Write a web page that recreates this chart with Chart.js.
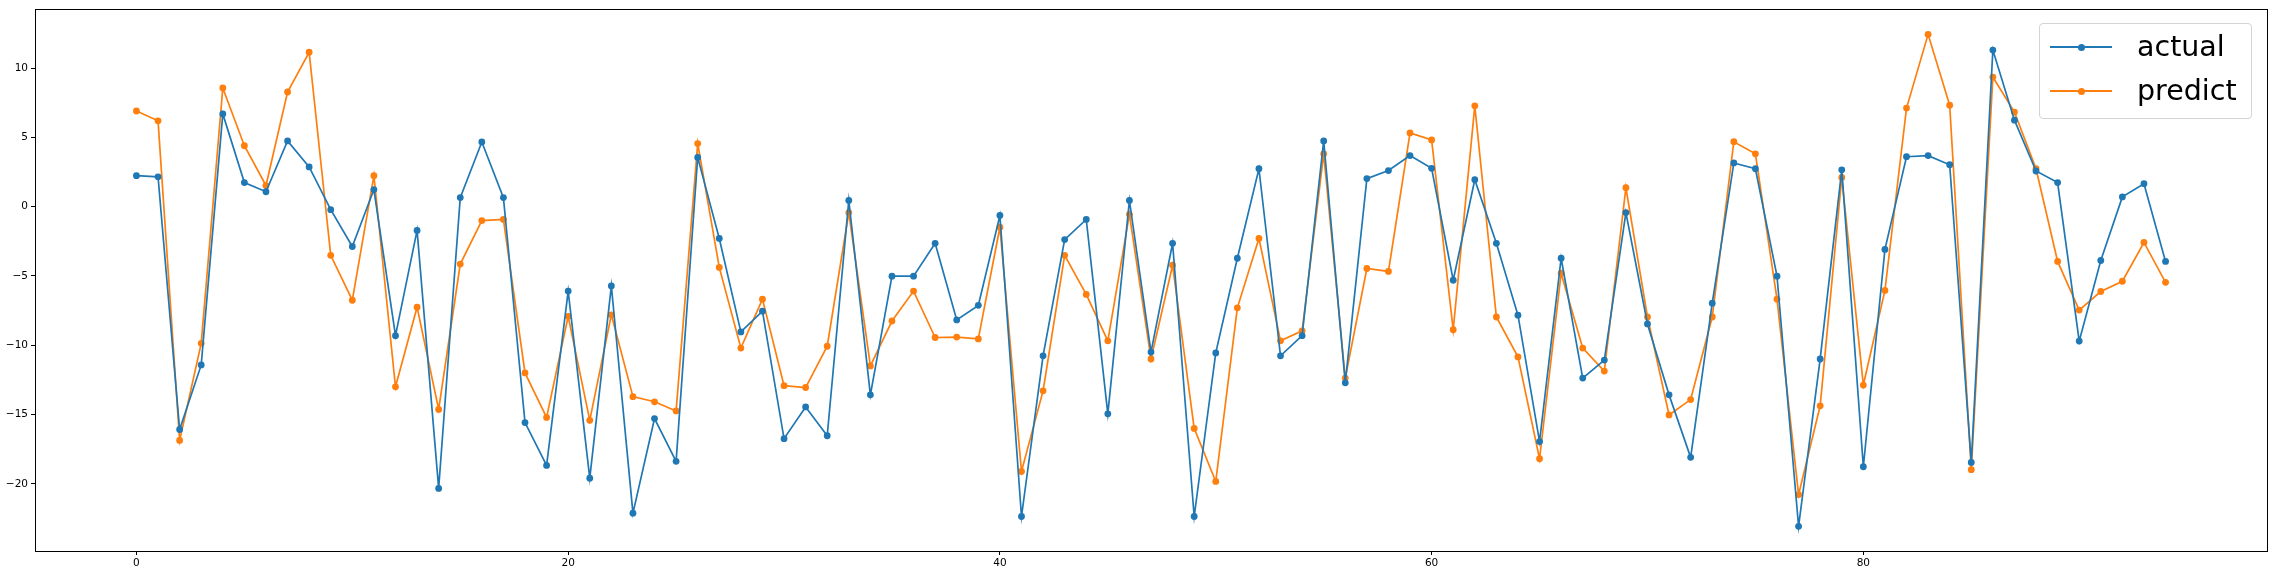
<!DOCTYPE html>
<html>
<head>
<meta charset="utf-8">
<script src="https://cdn.jsdelivr.net/npm/chart.js@4.4.1/dist/chart.umd.min.js"></script>
<style>
body { margin: 0; background: #fff; }
#wrap { position: relative; width: 2274px; height: 575px; }
#legend {
  position: absolute; left: 2039px; top: 23px; width: 211px; height: 94px;
  border: 1px solid #d4d4d4; border-radius: 4px; background: rgba(255,255,255,0.8);
  font-family: "DejaVu Sans", sans-serif; font-size: 28.5px; color: #000;
}
.sample { position: absolute; left: 10px; width: 62px; height: 2px; }
.dot { position: absolute; left: 27.5px; top: -2.5px; width: 7px; height: 7px; border-radius: 50%; }
.label { position: absolute; left: 97px; line-height: 1; white-space: nowrap; }
</style>
</head>
<body>
<div id="wrap">
  <canvas id="chart" width="2274" height="575"></canvas>
  <div id="legend">
    <div class="sample" style="top:22px;background:#1f77b4"><div class="dot" style="background:#1f77b4"></div></div>
    <span class="label" style="top:9px">actual</span>
    <div class="sample" style="top:66px;background:#ff7f0e"><div class="dot" style="background:#ff7f0e"></div></div>
    <span class="label" style="top:53px">predict</span>
  </div>
</div>
<script>
// values, index 0..94
const actual = [
  2.24, 2.16, -16.08, -11.42, 6.70, 1.74, 1.08, 4.75, 2.87, -0.21,
  -2.87, 1.24, -9.31, -1.71, -20.33, 0.66, 4.67, 0.66, -15.58, -18.67,
  -6.09, -19.59, -5.72, -22.12, -15.29, -18.38, 3.56, -2.29, -9.04, -7.54,
  -16.74, -14.45, -16.53, 0.45, -13.58, -5.01, -5.01, -2.64, -8.17, -7.12,
  -0.63, -22.36, -10.76, -2.37, -0.92, -14.95, 0.45, -10.49, -2.64, -22.36,
  -10.55, -3.72, 2.74, -10.76, -9.31, 4.75, -12.71, 2.03, 2.61, 3.69,
  2.77, -5.30, 1.95, -2.64, -7.83, -16.95, -3.72, -12.37, -11.07, -0.42,
  -8.46, -13.58, -18.09, -6.96, 3.16, 2.74, -5.01, -23.07, -10.99, 2.66,
  -18.77, -3.08, 3.61, 3.69, 3.03, -18.46, 11.31, 6.25, 2.58, 1.74,
  -9.70, -3.88, 0.71, 1.66, -3.95
];
const predict = [
  6.91, 6.20, -16.87, -9.86, 8.57, 4.40, 1.53, 8.28, 11.15, -3.51,
  -6.75, 2.24, -13.00, -7.25, -14.63, -4.14, -1.00, -0.92, -12.00, -15.21,
  -7.91, -15.42, -7.80, -13.71, -14.08, -14.74, 4.56, -4.38, -10.20, -6.67,
  -12.92, -13.05, -10.07, -0.42, -11.49, -8.25, -6.09, -9.44, -9.41, -9.54,
  -1.48, -19.11, -13.29, -3.51, -6.33, -9.68, -0.55, -10.99, -4.22, -16.00,
  -19.83, -7.30, -2.29, -9.68, -8.96, 3.82, -12.37, -4.46, -4.67, 5.33,
  4.82, -8.88, 7.28, -7.96, -10.84, -18.19, -4.80, -10.20, -11.86, 1.37,
  -7.96, -15.03, -13.92, -7.96, 4.69, 3.82, -6.67, -20.78, -14.37, 2.11,
  -12.87, -6.04, 7.12, 12.44, 7.33, -18.98, 9.36, 6.83, 2.74, -3.95,
  -7.46, -6.12, -5.38, -2.58, -5.46
];
const xTicks = [0, 20, 40, 60, 80];
const yTicks = [-20, -15, -10, -5, 0, 5, 10];

const toPoints = arr => arr.map((v, i) => ({ x: i, y: v }));

// matplotlib-style box round the plot area
const frame = {
  id: "frame",
  afterDraw(chart) {
    const a = chart.chartArea, ctx = chart.ctx;
    ctx.save();
    ctx.strokeStyle = "#000";
    ctx.lineWidth = 1;
    ctx.strokeRect(Math.round(a.left) + 0.5, Math.round(a.top) + 0.5,
      Math.round(a.right - a.left), Math.round(a.bottom - a.top));
    ctx.restore();
  }
};

const tickFont = { family: "DejaVu Sans", size: 10.5 };

new Chart(document.getElementById("chart").getContext("2d"), {
  type: "line",
  data: {
    datasets: [
      { label: "actual", data: toPoints(actual), borderColor: "#1f77b4", backgroundColor: "#1f77b4",
        borderWidth: 1.7, pointRadius: 3.4, pointBorderWidth: 0, tension: 0 },
      { label: "predict", data: toPoints(predict), borderColor: "#ff7f0e", backgroundColor: "#ff7f0e",
        borderWidth: 1.7, pointRadius: 3.4, pointBorderWidth: 0, tension: 0 }
    ]
  },
  options: {
    responsive: false,
    animation: false,
    layout: { padding: { top: 7, right: 7, left: 0, bottom: 0 } },
    plugins: { legend: { display: false }, tooltip: { enabled: false } },
    scales: {
      x: {
        type: "linear",
        min: -4.7,
        max: 98.7,
        afterBuildTicks: s => { s.ticks = xTicks.map(v => ({ value: v })); },
        afterFit: s => { s.height = 24; },
        ticks: { font: tickFont, color: "#000", padding: 2, maxRotation: 0 },
        grid: { drawOnChartArea: false, drawTicks: true, tickLength: 4, tickColor: "#000" },
        border: { display: true, color: "#000", width: 1 }
      },
      y: {
        min: -24.85,
        max: 14.25,
        afterBuildTicks: s => { s.ticks = yTicks.map(v => ({ value: v })); },
        afterFit: s => { s.width = 35; },
        ticks: { font: tickFont, color: "#000", padding: 3,
          callback: v => String(v).replace("-", "\u2212") },
        grid: { drawOnChartArea: false, drawTicks: true, tickLength: 4, tickColor: "#000" },
        border: { display: true, color: "#000", width: 1 }
      }
    }
  },
  plugins: [frame]
});
</script>
</body>
</html>
